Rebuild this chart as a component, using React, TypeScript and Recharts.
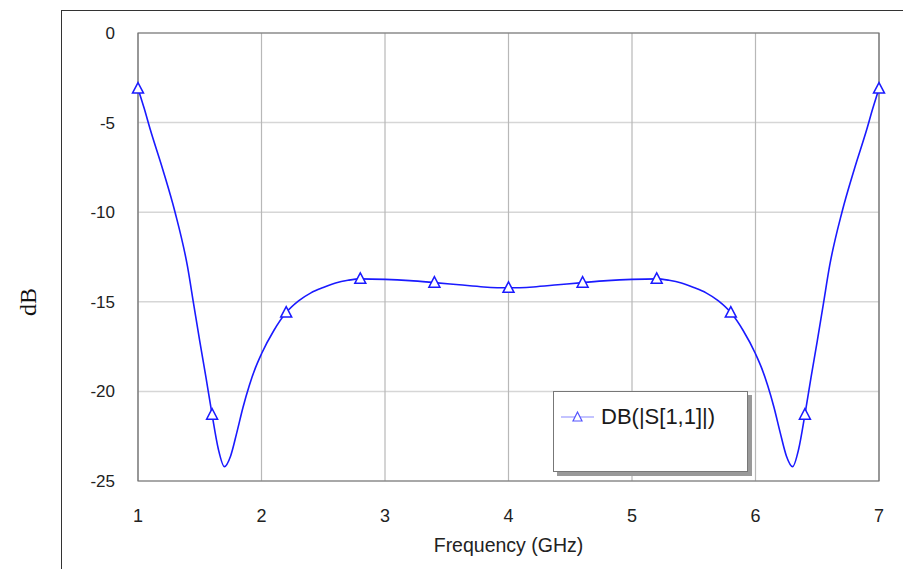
import React from 'react';
import {
  LineChart,
  Line,
  XAxis,
  YAxis,
  CartesianGrid,
  ReferenceArea,
} from 'recharts';

// frequency samples (GHz)
const freqs = [
  1.0, 1.05, 1.1, 1.2, 1.3, 1.4, 1.45, 1.5, 1.55, 1.6, 1.65, 1.7, 1.75, 1.8, 1.85, 1.9, 1.95,
  2.0, 2.1, 2.2, 2.3, 2.4, 2.5, 2.6, 2.7, 2.8, 3.0, 3.2, 3.4, 3.6, 3.8, 4.0, 4.2, 4.4, 4.6,
  4.8, 5.0, 5.2, 5.3, 5.4, 5.5, 5.6, 5.7, 5.8, 5.9, 6.0, 6.05, 6.1, 6.15, 6.2, 6.25, 6.3,
  6.35, 6.4, 6.45, 6.5, 6.55, 6.6, 6.7, 6.8, 6.9, 6.95, 7.0,
];

// DB(|S[1,1]|) in dB
const s11 = [
  -3.1, -4.2, -5.4, -7.6, -10.0, -13.0, -15.1, -17.2, -19.2, -21.3, -23.2, -24.2, -23.6, -22.3,
  -20.9, -19.7, -18.7, -17.9, -16.6, -15.6, -14.95, -14.5, -14.2, -13.95, -13.8, -13.72,
  -13.75, -13.82, -13.93, -14.05, -14.17, -14.22, -14.17, -14.05, -13.93, -13.82, -13.75,
  -13.72, -13.8, -13.95, -14.2, -14.5, -14.95, -15.6, -16.6, -17.9, -18.7, -19.7, -20.9,
  -22.3, -23.6, -24.2, -23.2, -21.3, -19.2, -17.2, -15.1, -13.0, -10.0, -7.6, -5.4, -4.2, -3.1,
];

// frequencies where the triangle markers sit
const markerFreqs = [1.0, 1.6, 2.2, 2.8, 3.4, 4.0, 4.6, 5.2, 5.8, 6.4, 7.0];

const xTicks = [1, 2, 3, 4, 5, 6, 7];
const yTicks = [0, -5, -10, -15, -20, -25];

const data = freqs.map((f, i) => ({ f, s11: s11[i] }));

const BLUE = '#1a1aff';
const FONT = '"Liberation Sans", Arial, sans-serif';

const TriangleDot = (props: any) => {
  const { cx, cy, payload, index } = props;
  if (!markerFreqs.some((m) => Math.abs(m - payload.f) < 1e-6)) {
    return <g key={index} />;
  }
  return (
    <polygon
      key={index}
      points={`${cx},${cy - 6} ${cx - 5.5},${cy + 4.5} ${cx + 5.5},${cy + 4.5}`}
      fill="#fff"
      stroke={BLUE}
      strokeWidth={1.5}
    />
  );
};

const LegendBox = () => (
  <div
    style={{
      position: 'absolute',
      left: 553,
      top: 391,
      width: 195,
      height: 81,
      background: '#fff',
      border: '1px solid #777',
      boxShadow: '4px 4px 0 #999',
      boxSizing: 'border-box',
      fontFamily: FONT,
    }}
  >
    <div style={{ display: 'flex', alignItems: 'center', marginTop: 12, marginLeft: 7 }}>
      <svg width={34} height={14}>
        <line x1={0} y1={7} x2={33} y2={7} stroke="#8888ff" strokeWidth={1.2} />
        <polygon points="16.5,2 12,11 21,11" fill="#fff" stroke="#5555ff" strokeWidth={1.2} />
      </svg>
      <span style={{ fontSize: 22, color: '#1a1a1a', marginLeft: 6 }}>DB(|S[1,1]|)</span>
    </div>
  </div>
);

export default function App() {
  return (
    <div style={{ position: 'absolute', left: 0, top: 0, width: 903, height: 569, background: '#fff' }}>
      {/* outer frame */}
      <div
        style={{
          position: 'absolute',
          left: 61,
          top: 10,
          width: 842,
          height: 559,
          borderTop: '1.5px solid #333',
          borderLeft: '1.5px solid #333',
        }}
      />
      <div
        style={{
          position: 'absolute',
          left: 28,
          top: 302,
          transform: 'translate(-50%, -50%) rotate(-90deg)',
          fontFamily: '"Liberation Serif", "Times New Roman", serif',
          fontSize: 24,
          color: '#111',
          whiteSpace: 'nowrap',
        }}
      >
        dB
      </div>
      <div style={{ position: 'absolute', left: 0, top: 0 }}>
        <LineChart
          width={903}
          height={569}
          data={data}
          margin={{ top: 33, right: 24, left: 78, bottom: 58 }}
        >
          <CartesianGrid horizontal={true} vertical={false} stroke="#d6d6d6" strokeWidth={1.5} />
          <CartesianGrid horizontal={false} vertical={true} stroke="#b8b8b8" strokeWidth={1.2} />
          <XAxis
            dataKey="f"
            type="number"
            domain={[1, 7]}
            ticks={xTicks}
            axisLine={false}
            tickLine={false}
            tickSize={0}
            tickMargin={28}
            height={30}
            tick={{ fill: '#222', fontSize: 18, fontFamily: FONT }}
            label={{
              value: 'Frequency (GHz)',
              position: 'insideBottom',
              offset: -41,
              fill: '#222',
              fontSize: 19.5,
              fontFamily: FONT,
            }}
          />
          <YAxis
            type="number"
            domain={[-25, 0]}
            ticks={yTicks}
            axisLine={false}
            tickLine={false}
            tickSize={0}
            tickMargin={23}
            width={60}
            tick={{ fill: '#222', fontSize: 17, fontFamily: FONT }}
          />
          <ReferenceArea
            x1={1}
            x2={7}
            y1={-25}
            y2={0}
            fill="none"
            fillOpacity={0}
            stroke="#707070"
            strokeWidth={1.2}
          />
          <Line
            type="monotone"
            dataKey="s11"
            stroke={BLUE}
            strokeWidth={1.6}
            dot={TriangleDot}
            activeDot={false}
            isAnimationActive={false}
          />
        </LineChart>
      </div>
      <LegendBox />
    </div>
  );
}
